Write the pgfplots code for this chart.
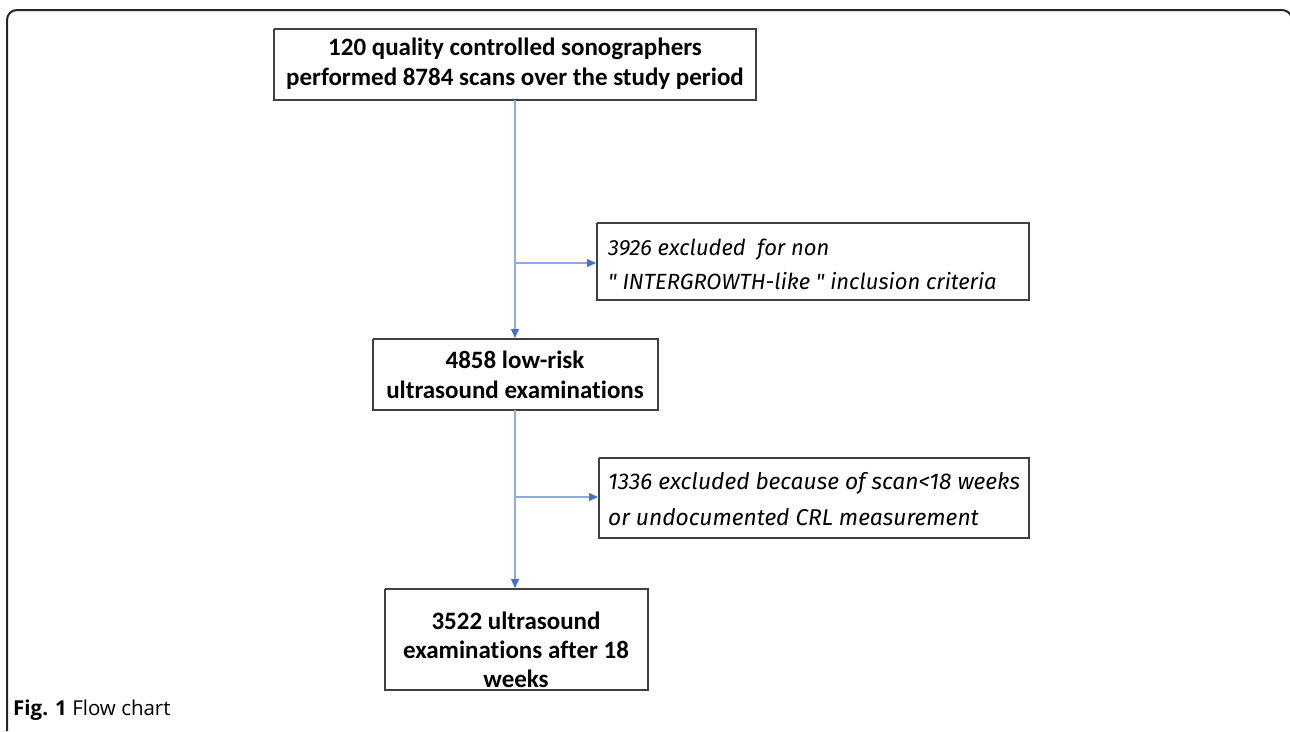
\documentclass[border=0pt]{standalone}
\usepackage{pgfplots}
\pgfplotsset{compat=1.18}
\usepackage{fontspec}
\setmainfont{Carlito}[RawFeature=-liga]
\newfontfamily\exfont{Fira Sans}
\newfontfamily\capfont{Open Sans}
\usetikzlibrary{arrows.meta}
\definecolor{lineblue}{HTML}{8FAADC}
\definecolor{headblue}{HTML}{4472C4}
\definecolor{boxgray}{HTML}{404040}
\begin{document}
\begin{tikzpicture}
\begin{axis}[
  scale only axis, width=1290pt, height=731pt,
  xmin=0, xmax=1290, ymin=0, ymax=731, y dir=reverse,
  axis lines=none, ticks=none, clip=true,
]
% outer frame
\draw[line width=2pt, color=black!85, rounded corners=10pt]
  (axis cs:7,731) -- (axis cs:7,10) -- (axis cs:1292,10) -- (axis cs:1292,731);
% boxes
\addplot[boxgray, line width=1.6pt, mark=none] coordinates {(274,29) (756,29) (756,100) (274,100) (274,29)};
\addplot[boxgray, line width=1.6pt, mark=none] coordinates {(597,223) (1029,223) (1029,300) (597,300) (597,223)};
\addplot[boxgray, line width=1.6pt, mark=none] coordinates {(373,339) (658,339) (658,410) (373,410) (373,339)};
\addplot[boxgray, line width=1.6pt, mark=none] coordinates {(599,458) (1029,458) (1029,538) (599,538) (599,458)};
\addplot[boxgray, line width=1.6pt, mark=none] coordinates {(385,589) (648,589) (648,690) (385,690) (385,589)};
% connectors
\addplot[lineblue, line width=1.2pt, mark=none, -{Triangle[length=9pt,width=8pt,color=headblue]}] coordinates {(515,100) (515,338)};
\addplot[lineblue, line width=1.2pt, mark=none, -{Triangle[length=9pt,width=8pt,color=headblue]}] coordinates {(515,263) (596,263)};
\addplot[lineblue, line width=1.2pt, mark=none, -{Triangle[length=9pt,width=8pt,color=headblue]}] coordinates {(515,410) (515,588)};
\addplot[lineblue, line width=1.2pt, mark=none, -{Triangle[length=9pt,width=8pt,color=headblue]}] coordinates {(515,497) (598,497)};
% texts
\node[font=\fontsize{25}{30}\selectfont\bfseries, align=center, inner sep=0pt] at (axis cs:515,64) {120 quality controlled sonographers\\performed 8784 scans over the study period};
\node[font=\fontsize{25}{30}\selectfont\bfseries, align=center, inner sep=0pt] at (axis cs:515,375) {4858 low-risk\\ultrasound examinations};
\node[font=\fontsize{25}{29}\selectfont\bfseries, align=center, inner sep=0pt] at (axis cs:516,650) {3522 ultrasound\\examinations after 18\\weeks};
\node[font=\exfont\itshape\fontsize{22}{34}\selectfont, align=left, anchor=west, inner sep=0pt] at (axis cs:608,264) {3926 excluded\ \ for non\\" INTERGROWTH-like " inclusion criteria};
\node[font=\exfont\itshape\fontsize{22.8}{36}\selectfont, align=left, anchor=west, inner sep=0pt] at (axis cs:608,499) {1336 excluded because of scan<18 weeks\\or undocumented CRL measurement};
\node[font=\capfont\fontsize{20.5}{24}\selectfont, anchor=west, inner sep=0pt] at (axis cs:13,710) {\textbf{Fig. 1} Flow chart};
\end{axis}
\pgfresetboundingbox
\useasboundingbox (0,0) rectangle (1290pt,731pt);
\end{tikzpicture}
\end{document}
